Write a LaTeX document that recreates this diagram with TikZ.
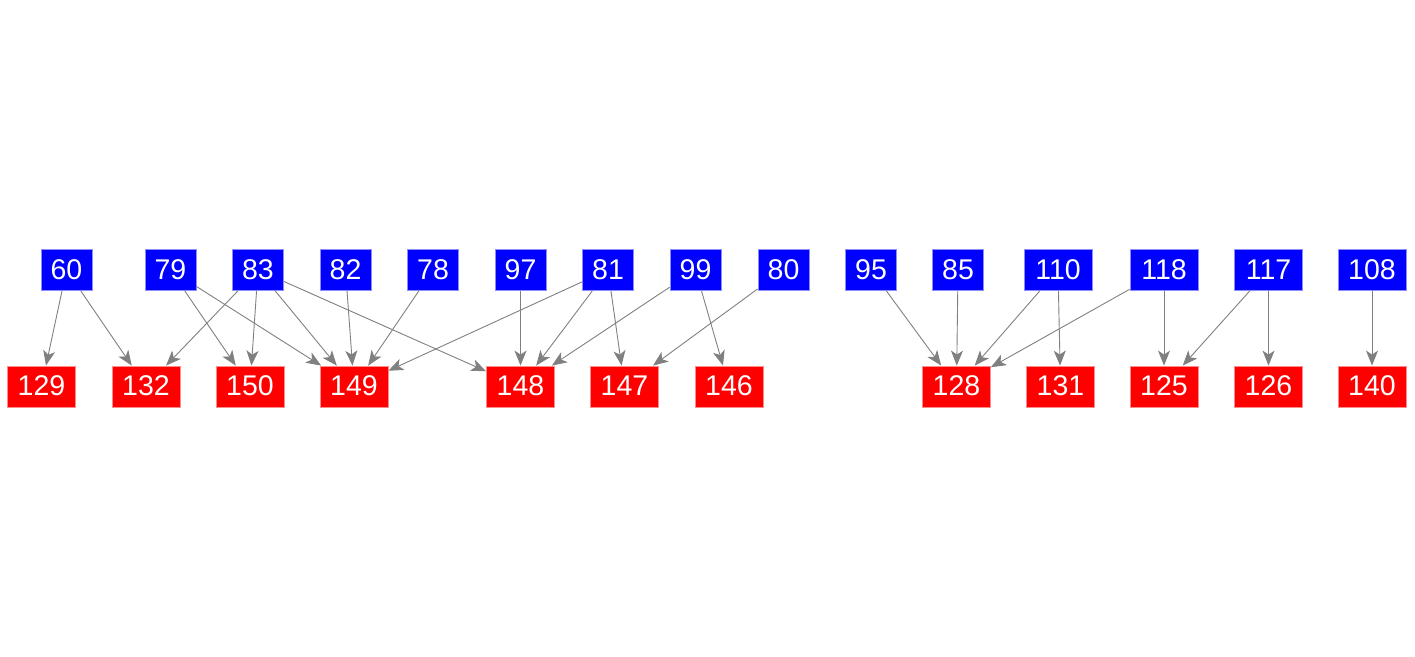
\documentclass[tikz,border=0pt]{standalone}
\usepackage{fontspec}
\setmainfont{Liberation Sans}
\usetikzlibrary{arrows.meta}
\definecolor{cBlue}{HTML}{0000FF}
\definecolor{cRed}{HTML}{FF0000}
\definecolor{cEdge}{HTML}{808080}

\begin{document}
\begin{tikzpicture}[
    x=1pt, y=1pt,
    % ---------------------------------------------------------
    % ESTILOS BASE
    % ---------------------------------------------------------
    box/.style={
        rectangle,
        fill=#1,
        draw=#1!45!white,
        line width=0.8pt,
        text=white,
        font=\fontsize{28.5}{32}\selectfont,
        minimum height=41pt,
        text depth=1.5pt,
        inner sep=0pt
    },
    src/.style={box=cBlue, minimum width=51pt},
    srcw/.style={box=cBlue, minimum width=68pt},
    dst/.style={box=cRed, minimum width=68pt},
    edge/.style={
        draw=cEdge,
        line width=0.9pt,
        -{Stealth[length=15pt, width=12pt, inset=4pt]}
    }
]
\useasboundingbox (0,0) rectangle (1415,656);

% ---------------------------------------------------------
% 1. NODOS ORIGEN (fila superior)
% ---------------------------------------------------------
\node[src]  (b60)  at (66.5, 386) {60};
\node[src]  (b79)  at (170.5, 386) {79};
\node[src]  (b83)  at (258, 386) {83};
\node[src]  (b82)  at (345.5, 386) {82};
\node[src]  (b78)  at (433, 386) {78};
\node[src]  (b97)  at (520.5, 386) {97};
\node[src]  (b81)  at (608, 386) {81};
\node[src]  (b99)  at (695.5, 386) {99};
\node[src]  (b80)  at (783.5, 386) {80};
\node[src]  (b95)  at (871, 386) {95};
\node[src]  (b85)  at (958, 386) {85};
\node[srcw] (b110) at (1058, 386) {110};
\node[srcw] (b118) at (1164, 386) {118};
\node[srcw] (b117) at (1268.5, 386) {117};
\node[srcw] (b108) at (1372, 386) {108};

% ---------------------------------------------------------
% 2. NODOS DESTINO (fila inferior)
% ---------------------------------------------------------
\node[dst] (r129) at (41.5, 269.5) {129};
\node[dst] (r132) at (146, 269.5) {132};
\node[dst] (r150) at (250, 269.5) {150};
\node[dst] (r149) at (354, 269.5) {149};
\node[dst] (r148) at (520.5, 269.5) {148};
\node[dst] (r147) at (624.5, 269.5) {147};
\node[dst] (r146) at (729, 269.5) {146};
\node[dst] (r128) at (956.5, 269.5) {128};
\node[dst] (r131) at (1060.5, 269.5) {131};
\node[dst] (r125) at (1164, 269.5) {125};
\node[dst] (r126) at (1268.5, 269.5) {126};
\node[dst] (r140) at (1372, 269.5) {140};

% ---------------------------------------------------------
% 3. ARISTAS
% ---------------------------------------------------------
% Grupo izquierdo
\draw[edge] (b60) -- (r129);
\draw[edge] (b60) -- (r132);
\draw[edge] (b79) -- (r150);
\draw[edge] (b79) -- (r149);
\draw[edge] (b83) -- (r132);
\draw[edge] (b83) -- (r150);
\draw[edge] (b83) -- (r149);
\draw[edge] (b83) -- (r148);
\draw[edge] (b82) -- (r149);
\draw[edge] (b78) -- (r149);
\draw[edge] (b97) -- (r148);
\draw[edge] (b81) -- (r149);
\draw[edge] (b81) -- (r148);
\draw[edge] (b81) -- (r147);
\draw[edge] (b99) -- (r148);
\draw[edge] (b99) -- (r146);
\draw[edge] (b80) -- (r147);

% Grupo derecho
\draw[edge] (b95) -- (r128);
\draw[edge] (b85) -- (r128);
\draw[edge] (b110) -- (r128);
\draw[edge] (b110) -- (r131);
\draw[edge] (b118) -- (r128);
\draw[edge] (b118) -- (r125);
\draw[edge] (b117) -- (r125);
\draw[edge] (b117) -- (r126);
\draw[edge] (b108) -- (r140);

\end{tikzpicture}
\end{document}
